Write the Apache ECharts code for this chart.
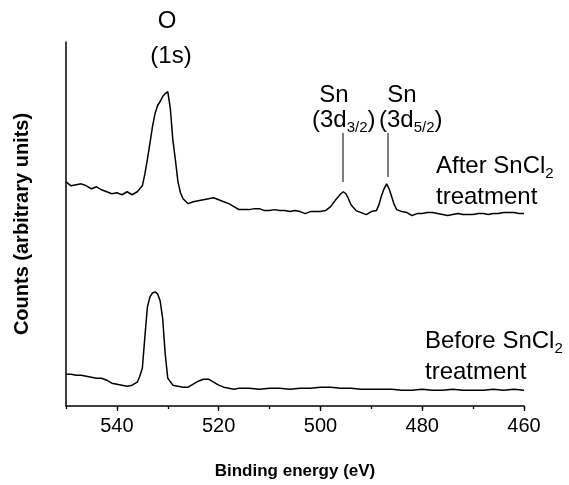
<!DOCTYPE html>
<html>
<head>
<meta charset="utf-8">
<script src="https://cdn.jsdelivr.net/npm/echarts@6/dist/echarts.min.js"></script>
<style>
html,body{margin:0;padding:0;background:#fff;}
#chart{width:569px;height:485px;}
</style>
</head>
<body>
<div id="chart"></div>
<script>
// Binding energy (eV) and counts (arbitrary units)
const energyAfter = [550,549,548,547,546,545,544,543,542,541,540,539,538,537,536,535,534.5,534,533.5,533,532.5,532,531.5,531,530.5,530,529.5,529,528.5,528,527.5,527,526,525,524,523,522,521,520,519,518,517,516,515,514,513,512,511,510,509,508,507,506,505,504,503,502,501,500,499,498,497,496,495.5,495,494.5,494,493,492,491,490,489,488.5,488,487.5,487,486.5,486,485.5,485,484,483,482,481,480,479,478,477,476,475,474,473,472,471,470,469,468,467,466,465,464,463,462,461,460];
const countsAfter = [226,222,223,224,222,219,221,218,216,214,215,213,216,213,216,222,234,249,265,282,295,303,307,312,315,317,300,268,248,226,215,209,204,206,207,208,209,210,208,206,204,201,198,198,198,199,199,197,197,198,197,197,196,197,196,194,196,196,196,197,201,208,214,216,214,209,203,197,195,193,196,197,203,212,219,224,219,211,203,198,196,195,192,194,194,195,195,194,193,192,193,194,193,193,193,194,194,193,194,194,195,195,195,194,194];

const energyBefore = [550,549,548,547,546,545,544,543,542,541,540,539,538,537,536,535.5,535,534.5,534,533.5,533,532.5,532,531.5,531,530.5,530,529,528,527,526,525,524,523,522,521,520,519,518,517,516,514,512,510,508,506,504,502,500,498,496,494,492,490,488,486,484,482,480,478,476,474,472,470,468,466,464,462,460];
const countsBefore = [32,32,31,31,30,29,28,28,26,23,22,21,20,21,24,30,38,70,100,110,114,115,113,106,88,52,28,21,20,19,19,22,25,27,27,24,21,19,18,17,18,18,17,18,18,17,18,18,19,19,18,18,17,17,17,17,16,16,17,16,16,17,16,16,16,17,16,17,16];

const xTicks = {min: 460, max: 550, major: 20, minor: 10};

const pairs = (xs, ys) => xs.map((x, i) => [x, ys[i]]);
const FONT = 'Liberation Sans, Arial, sans-serif';

const chart = echarts.init(document.getElementById('chart'), null, {renderer: 'canvas'});
const mainTxt = {fontSize: 24, fontFamily: FONT, color: '#000', lineHeight: 30};
const subTxt = {fontSize: 15, fontFamily: FONT, color: '#000', lineHeight: 17, verticalAlign: 'bottom'};
const rich = {m: mainTxt, s: subTxt};

function label(x, y, text, align) {
  return {type: 'text', x: x, y: y, style: {text: text, rich: rich, textAlign: align || 'left', textVerticalAlign: 'middle', font: '24px ' + FONT, fill: '#000'}};
}

chart.setOption({
  animation: false,
  backgroundColor: '#fff',
  grid: {left: 66, right: 45, top: 42, bottom: 76, containLabel: false},
  xAxis: [{
    type: 'value', inverse: true, min: xTicks.min, max: xTicks.max, interval: xTicks.major,
    axisLine: {show: true, onZero: false, lineStyle: {color: '#000', width: 1.5}},
    axisTick: {show: true, length: 5, lineStyle: {color: '#000', width: 1.3}},
    axisLabel: {show: true, fontSize: 20, fontFamily: FONT, color: '#000', margin: 10, showMaxLabel: false},
    splitLine: {show: false},
    name: 'Binding energy (eV)', nameLocation: 'middle', nameGap: 57,
    nameTextStyle: {fontSize: 17, fontWeight: 'bold', fontFamily: FONT, color: '#000'}
  }, {
    type: 'value', inverse: true, min: xTicks.min, max: xTicks.max, interval: xTicks.minor, position: 'bottom',
    axisLine: {show: false, onZero: false}, axisTick: {show: true, length: 3, lineStyle: {color: '#000', width: 1.3}},
    axisLabel: {show: false}, splitLine: {show: false}
  }],
  yAxis: {
    type: 'value', min: 0, max: 367,
    axisLine: {show: true, lineStyle: {color: '#000', width: 1.5}},
    axisTick: {show: false}, axisLabel: {show: false}, splitLine: {show: false},
    name: 'Counts (arbitrary units)', nameLocation: 'middle', nameGap: 34, nameRotate: 90,
    nameTextStyle: {fontSize: 20, fontWeight: 'bold', fontFamily: FONT, color: '#000'}
  },
  series: [
    {type: 'line', data: pairs(energyAfter, countsAfter), showSymbol: false, lineStyle: {color: '#000', width: 1.5}, xAxisIndex: 0},
    {type: 'line', data: pairs(energyBefore, countsBefore), showSymbol: false, lineStyle: {color: '#000', width: 1.5}, xAxisIndex: 0}
  ],
  graphic: [
    label(167, 21, '{m|O}', 'center'),
    label(171, 56, '{m|(1s)}', 'center'),
    label(334, 95, '{m|Sn}', 'center'),
    label(402, 95, '{m|Sn}', 'center'),
    label(312, 120, '{m|(3d}{s|3/2}{m|)}', 'left'),
    label(379, 120, '{m|(3d}{s|5/2}{m|)}', 'left'),
    label(436, 166, '{m|After SnCl}{s|2}', 'left'),
    label(436, 197, '{m|treatment}', 'left'),
    label(425, 341, '{m|Before SnCl}{s|2}', 'left'),
    label(425, 372, '{m|treatment}', 'left'),
    {type: 'line', shape: {x1: 343, y1: 133, x2: 343, y2: 182}, style: {stroke: '#000', lineWidth: 1}},
    {type: 'line', shape: {x1: 388, y1: 133, x2: 388, y2: 177}, style: {stroke: '#000', lineWidth: 1}}
  ]
});
</script>
</body>
</html>
